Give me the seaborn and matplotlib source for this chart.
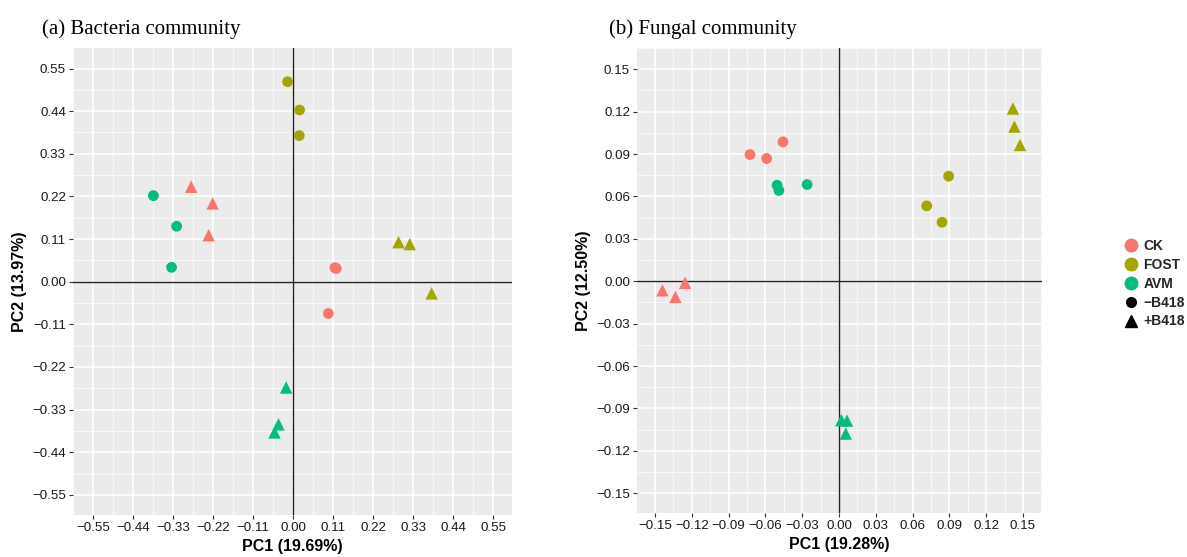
import matplotlib
matplotlib.use("Agg")
import matplotlib.pyplot as plt
import matplotlib.ticker as mticker
from matplotlib.lines import Line2D
import numpy as np
import pandas as pd
import seaborn as sns

# ---------------- data ----------------
groups = ["CK", "FOST", "AVM"]
treats = ["\u2212B418", "+B418"]
colors = {"CK": "#F8766D", "FOST": "#A3A500", "AVM": "#00BF7D"}

# (a) Bacteria community
bac_group = ["FOST", "FOST", "FOST",
             "FOST", "FOST", "FOST",
             "CK", "CK", "CK",
             "CK", "CK", "CK",
             "AVM", "AVM", "AVM",
             "AVM", "AVM", "AVM"]
bac_treat = ["\u2212B418"] * 3 + ["+B418"] * 3 + ["\u2212B418"] * 3 + ["+B418"] * 3 + ["\u2212B418"] * 3 + ["+B418"] * 3
bac_pc1 = [-0.015, 0.018, 0.017,
           0.290, 0.321, 0.381,
           0.115, 0.119, 0.097,
           -0.280, -0.221, -0.232,
           -0.384, -0.320, -0.334,
           -0.019, -0.040, -0.051]
bac_pc2 = [0.516, 0.443, 0.377,
           0.102, 0.097, -0.030,
           0.036, 0.034, -0.082,
           0.245, 0.202, 0.120,
           0.222, 0.143, 0.037,
           -0.273, -0.368, -0.389]

# (b) Fungal community
fun_group = bac_group
fun_treat = bac_treat
fun_pc1 = [0.0894, 0.0715, 0.0840,
           0.1418, 0.1430, 0.1476,
           -0.0726, -0.0590, -0.0457,
           -0.1440, -0.1334, -0.1255,
           -0.0505, -0.0490, -0.0260,
           0.0019, 0.0065, 0.0055]
fun_pc2 = [0.0743, 0.0533, 0.0417,
           0.1222, 0.1094, 0.0964,
           0.0896, 0.0868, 0.0986,
           -0.0064, -0.0111, -0.0012,
           0.0679, 0.0642, 0.0684,
           -0.0983, -0.0986, -0.1078]

bac_ticks = [-0.55, -0.44, -0.33, -0.22, -0.11, 0.00, 0.11, 0.22, 0.33, 0.44, 0.55]
fun_ticks = [-0.15, -0.12, -0.09, -0.06, -0.03, 0.00, 0.03, 0.06, 0.09, 0.12, 0.15]

bac = pd.DataFrame({"PC1": bac_pc1, "PC2": bac_pc2, "group": bac_group, "treat": bac_treat})
fun = pd.DataFrame({"PC1": fun_pc1, "PC2": fun_pc2, "group": fun_group, "treat": fun_treat})

# ---------------- figure ----------------
sns.set_theme(style="darkgrid")
plt.rcParams["font.family"] = ["Liberation Sans", "DejaVu Sans"]

fig = plt.figure(figsize=(11.87, 5.57), dpi=100)
ax1 = fig.add_axes([73 / 1187, 1 - 515 / 557, (512 - 73) / 1187, (515 - 48) / 557])
ax2 = fig.add_axes([637 / 1187, 1 - 513 / 557, (1042 - 637) / 1187, (513 - 48) / 557])


def draw(ax, df, ticks, lim, title, xlabel, ylabel):
    ax.set_facecolor("#EBEBEB")
    for tr, mk, sz in [("\u2212B418", "o", 60), ("+B418", "^", 80)]:
        sub = df[df["treat"] == tr]
        sns.scatterplot(data=sub, x="PC1", y="PC2", hue="group", hue_order=groups,
                        palette=colors, marker=mk, s=sz, linewidth=0, ax=ax,
                        legend=False, zorder=3)
    ax.axvline(0, color="#222222", lw=1.0, zorder=2)
    ax.axhline(0, color="#222222", lw=1.0, zorder=2)
    ax.set_xlim(-lim[0], lim[1])
    ax.set_ylim(-lim[2], lim[3])
    ax.set_xticks(ticks)
    ax.set_yticks(ticks)
    step = ticks[1] - ticks[0]
    ax.xaxis.set_minor_locator(mticker.FixedLocator(np.array(ticks[:-1]) + step / 2 + 0) )
    ax.yaxis.set_minor_locator(mticker.FixedLocator(np.array(ticks[:-1]) + step / 2))
    minor = list(np.array(ticks[:-1]) + step / 2) + [ticks[0] - step / 2, ticks[-1] + step / 2]
    ax.xaxis.set_minor_locator(mticker.FixedLocator(minor))
    ax.yaxis.set_minor_locator(mticker.FixedLocator(minor))
    ax.set_xticklabels([f"{t:.2f}".replace("-", "\u2212") for t in ticks])
    ax.set_yticklabels([f"{t:.2f}".replace("-", "\u2212") for t in ticks])
    ax.grid(which="major", color="white", lw=1.1)
    ax.grid(which="minor", color="white", lw=0.5)
    ax.set_axisbelow(True)
    for s in ax.spines.values():
        s.set_visible(False)
    ax.tick_params(which="major", length=3, width=0.8, color="#333333",
                   labelsize=9.6, labelcolor="#1a1a1a", pad=2, bottom=True, left=True)
    ax.tick_params(which="minor", length=0)
    ax.set_xlabel(xlabel, fontsize=11.5, fontweight="bold", color="black", labelpad=4)
    ax.set_ylabel(ylabel, fontsize=11.5, fontweight="bold", color="black", labelpad=4)
    ax.set_title(title, loc="left", fontsize=15, family=["Liberation Serif", "DejaVu Serif"],
                 color="black", pad=10, x=-0.07)


draw(ax1, bac, bac_ticks, (0.605, 0.602, 0.602, 0.603),
     "(a) Bacteria community", "PC1 (19.69%)", "PC2 (13.97%)")
draw(ax2, fun, fun_ticks, (0.1647, 0.1655, 0.164, 0.165),
     "(b) Fungal community", "PC1 (19.28%)", "PC2 (12.50%)")

handles = [Line2D([], [], marker="o", ls="", color=colors[g], markersize=9) for g in groups]
handles += [Line2D([], [], marker="o", ls="", color="black", markersize=7),
            Line2D([], [], marker="^", ls="", color="black", markersize=8)]
labels = groups + treats
leg = fig.legend(handles, labels, loc="upper left", bbox_to_anchor=(1117 / 1187, 1 - 232 / 557),
                 frameon=False, prop={"weight": "bold", "size": 10},
                 handlelength=1.0, handletextpad=0.4, labelspacing=0.35, borderpad=0)

fig.savefig("out.png", dpi=100)
